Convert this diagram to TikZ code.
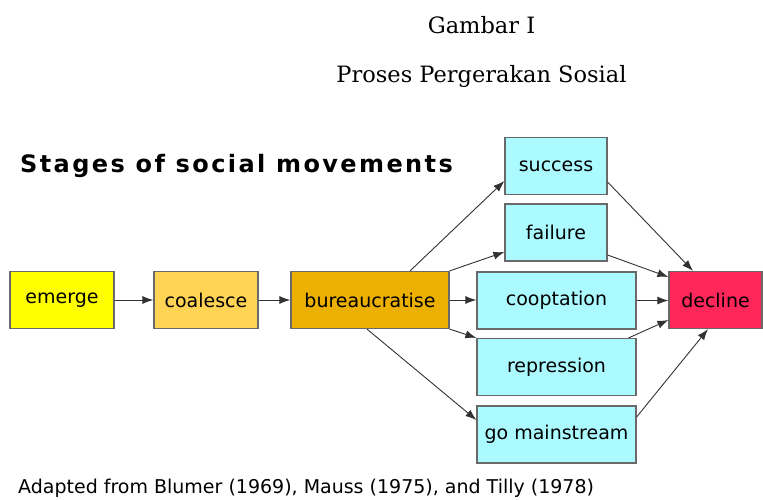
\documentclass[tikz,border=0pt]{standalone}
\usepackage{fontspec}
\usetikzlibrary{arrows.meta}
\newfontfamily\boxfont{DejaVu Sans}
\newfontfamily\titlefont[LetterSpace=10]{DejaVu Sans}
\newfontfamily\headfont{DejaVu Serif}
\definecolor{cEmerge}{RGB}{255,255,0}
\definecolor{cCoal}{RGB}{255,212,85}
\definecolor{cBur}{RGB}{235,176,0}
\definecolor{cCyan}{RGB}{170,250,255}
\definecolor{cDecl}{RGB}{255,38,90}
\definecolor{cBorder}{RGB}{105,105,105}
\definecolor{cLine}{RGB}{50,50,50}
\tikzset{
  stagebox/.style={draw=cBorder, line width=1.2pt, inner sep=0pt,
    minimum height=57pt, align=center,
    font=\boxfont\fontsize{19}{22}\selectfont},
  conn/.style={draw=cLine, line width=0.9pt, -{Latex[length=11pt,width=8pt]}},
  plaintext/.style={inner sep=0pt}
}
\begin{document}
\begin{tikzpicture}[x=1pt,y=-1pt]
\useasboundingbox (0,0) rectangle (763,499);
% header
\node[plaintext, anchor=base, font=\headfont\fontsize{22.5}{26}\selectfont] (gam) at (481.5,33) {Gambar I};
\node[plaintext, anchor=base, font=\headfont\fontsize{22.5}{26}\selectfont] (pro) at (481.5,82) {Proses Pergerakan Sosial};
% title
\node[plaintext, anchor=base west, font=\titlefont\bfseries\fontsize{24}{28}\selectfont] (ttl) at (20,172) {Stages of social movements};
% boxes
\node[stagebox, fill=cEmerge, minimum width=104pt] (em) at (62,300) {emerge};
\node[stagebox, fill=cCoal, minimum width=104pt] (co) at (206,300) {coalesce};
\node[stagebox, fill=cBur, minimum width=158pt] (bu) at (370,300) {bureaucratise};
\node[stagebox, fill=cCyan, minimum width=102pt] (su) at (556,166) {success};
\node[stagebox, fill=cCyan, minimum width=102pt] (fa) at (556,232.5) {failure};
\node[stagebox, fill=cCyan, minimum width=159pt] (cp) at (556.5,300.5) {cooptation};
\node[stagebox, fill=cCyan, minimum width=159pt] (re) at (556.5,367) {repression};
\node[stagebox, fill=cCyan, minimum width=159pt] (gm) at (556.5,434.5) {go mainstream};
\node[stagebox, fill=cDecl, minimum width=93pt] (de) at (715.5,300) {decline};
% connectors
\draw[conn] (em.east) -- (co.west);
\draw[conn] (co.east) -- (bu.west);
\draw[conn] (bu.east) -- (bu.east -| cp.west);
\draw[conn] ([xshift=40pt]bu.north) -- ([yshift=-15pt]su.west);
\draw[conn] (bu.north east) -- ([yshift=-19.5pt]fa.west);
\draw[conn] (bu.south east) -- (re.north west);
\draw[conn] ([xshift=-3pt]bu.south) -- ([yshift=14.5pt]gm.west);
\draw[conn] ([yshift=-16pt]su.east) -- ([xshift=-22.5pt]de.north);
\draw[conn] ([yshift=-22.5pt]fa.east) -- ([yshift=23pt]de.west);
\draw[conn] (cp.east) -- (cp.east -| de.west);
\draw[conn] ([xshift=-8pt]re.north east) -- ([yshift=-20pt]de.west);
\draw[conn] ([yshift=17.5pt]gm.east) -- ([xshift=-7.5pt]de.south);
% footer
\node[plaintext, anchor=base west, font=\boxfont\fontsize{19}{22}\selectfont] (ftr) at (18,493.5) {Adapted from Blumer (1969), Mauss (1975), and Tilly (1978)};
\end{tikzpicture}
\end{document}
